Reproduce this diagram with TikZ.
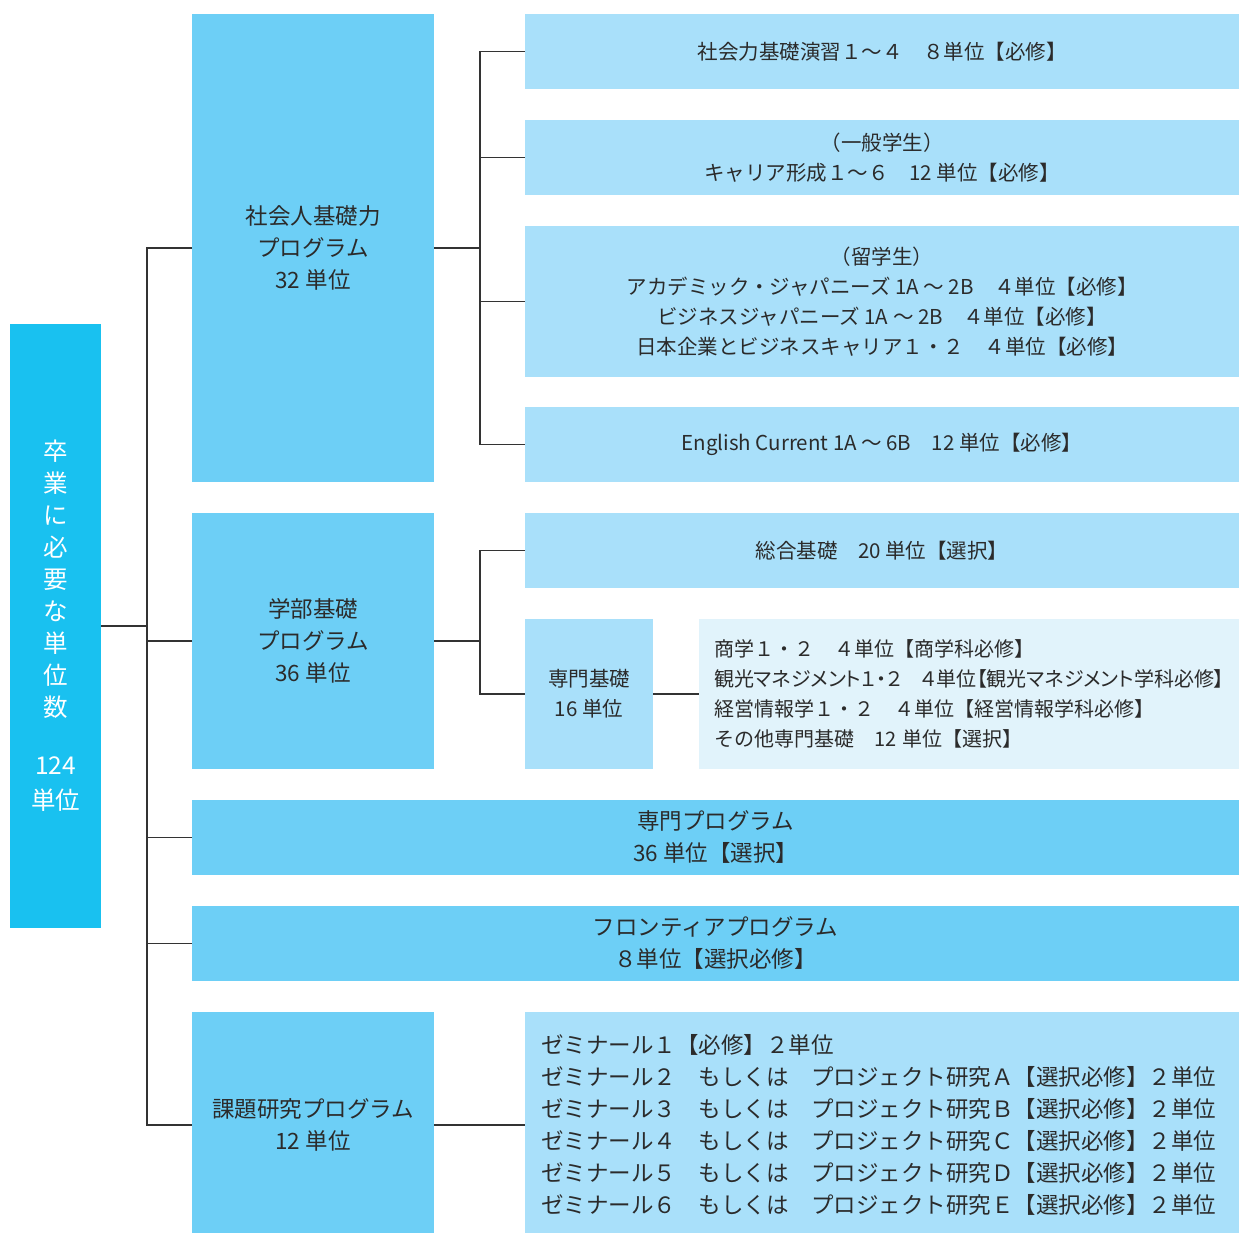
\documentclass[tikz,border=0pt]{standalone}
\usepackage{fontspec}
\setmainfont{Noto Sans CJK JP}
\newfontfamily\jpprop[RawFeature=+palt]{Noto Sans CJK JP}
\definecolor{rootblue}{HTML}{19C1F0}
\definecolor{progblue}{HTML}{6DCFF6}
\definecolor{courseblue}{HTML}{A9E0FA}
\definecolor{noteblue}{HTML}{E1F3FB}
\definecolor{inkgray}{HTML}{2B2B2B}
\definecolor{linegray}{HTML}{333333}

\begin{document}
\begin{tikzpicture}[x=1pt,y=-1pt,line join=miter,
  every node/.style={inner sep=0pt,outer sep=0pt,text=inkgray,align=center},
  rootbox/.style={fill=rootblue,text=white,font=\fontsize{24.5}{32}\selectfont},
  progbox/.style={fill=progblue,font=\fontsize{22.5}{32}\selectfont},
  coursebox/.style={fill=courseblue,font=\fontsize{20.5}{30}\selectfont},
  notebox/.style={fill=noteblue,font=\fontsize{20}{30}\selectfont},
  link/.style={draw=linegray,line width=1.6pt}]
  \useasboundingbox (0,0) rectangle (1239,1232);
%%
  % Node: root
  \node[rootbox,minimum width=91,minimum height=604] (root) at (55.5,626)
    {卒\\業\\に\\必\\要\\な\\単\\位\\数\\[26pt]124\\[3pt]単位};
  % Node: shakai
  \node[progbox,minimum width=242,minimum height=468] (shakai) at (313,248)
    {社会人基礎力\\プログラム\\32 単位};
  \node[coursebox,minimum width=714,minimum height=75] (ensyu) at (882,51.5)
    {社会力基礎演習１～４　８単位【必修】};
  \node[coursebox,minimum width=714,minimum height=75] (career) at (882,157.5)
    {（一般学生）\\キャリア形成１～６　12 単位【必修】};
  \node[coursebox,minimum width=714,minimum height=151] (ryugaku) at (882,301.5)
    {（留学生）\\アカデミック・ジャパニーズ 1A ～ 2B　４単位【必修】\\ビジネスジャパニーズ 1A ～ 2B　４単位【必修】\\日本企業とビジネスキャリア１・２　４単位【必修】};
  \node[coursebox,minimum width=714,minimum height=75] (english) at (882,444.5)
    {English Current 1A ～ 6B　12 単位【必修】};
  % Node: gakubu
  \node[progbox,minimum width=242,minimum height=256] (gakubu) at (313,641)
    {学部基礎\\プログラム\\36 単位};
  \node[coursebox,minimum width=714,minimum height=75] (sogo) at (882,550.5)
    {総合基礎　20 単位【選択】};
  \node[coursebox,minimum width=128,minimum height=150] (senkiso) at (589,694)
    {専門基礎\\16 単位};
  \node[notebox,text width=510,inner xsep=15,minimum height=150,align=left] (senkisolist) at (969,694)
    {商学１・２　４単位【商学科必修】\\{\jpprop 観光マネジメント１・２　４単位【観光マネジメント学科必修】}\\経営情報学１・２　４単位【経営情報学科必修】\\その他専門基礎　12 単位【選択】};
  % Node: senmon, frontier
  \node[progbox,minimum width=1047,minimum height=75] (senmon) at (715.5,837.5)
    {専門プログラム\\36 単位【選択】};
  \node[progbox,minimum width=1047,minimum height=75] (frontier) at (715.5,943.5)
    {フロンティアプログラム\\８単位【選択必修】};
  % Node: kadai
  \node[progbox,minimum width=242,minimum height=226] (kadai) at (313,1125)
    {課題研究プログラム\\12 単位};
  \node[coursebox,font=\fontsize{22.5}{32}\selectfont,text width=682,inner xsep=16,minimum height=226,align=left] (zemi) at (882,1125)
    {ゼミナール１【必修】２単位\\
     ゼミナール２　もしくは　プロジェクト研究Ａ【選択必修】２単位\\
     ゼミナール３　もしくは　プロジェクト研究Ｂ【選択必修】２単位\\
     ゼミナール４　もしくは　プロジェクト研究Ｃ【選択必修】２単位\\
     ゼミナール５　もしくは　プロジェクト研究Ｄ【選択必修】２単位\\
     ゼミナール６　もしくは　プロジェクト研究Ｅ【選択必修】２単位};
%%
  \coordinate (trunk) at (147,0);
  \coordinate (spine) at (480,0);
  % Edge: root -> programmes
  \draw[link] (root.east) -- (root.east -| trunk);
  \draw[link] (shakai.west) -- (shakai.west -| trunk) |- (kadai.west);
  \draw[link] (gakubu.west) -- (gakubu.west -| trunk);
  \draw[link] (senmon.west) -- (senmon.west -| trunk);
  \draw[link] (frontier.west) -- (frontier.west -| trunk);
  % Edge: shakai -> courses
  \draw[link] (shakai.east) -- (shakai.east -| spine);
  \draw[link] (ensyu.west) -- (ensyu.west -| spine) |- (english.west);
  \draw[link] (career.west) -- (career.west -| spine);
  \draw[link] (ryugaku.west) -- (ryugaku.west -| spine);
  % Edge: gakubu -> courses
  \draw[link] (gakubu.east) -- (gakubu.east -| spine);
  \draw[link] (sogo.west) -- (sogo.west -| spine) |- (senkiso.west);
  \draw[link] (senkiso.east) -- (senkisolist.west);
  % Edge: kadai -> zemi
  \draw[link] (kadai.east) -- (zemi.west);
%
\end{tikzpicture}
\end{document}
